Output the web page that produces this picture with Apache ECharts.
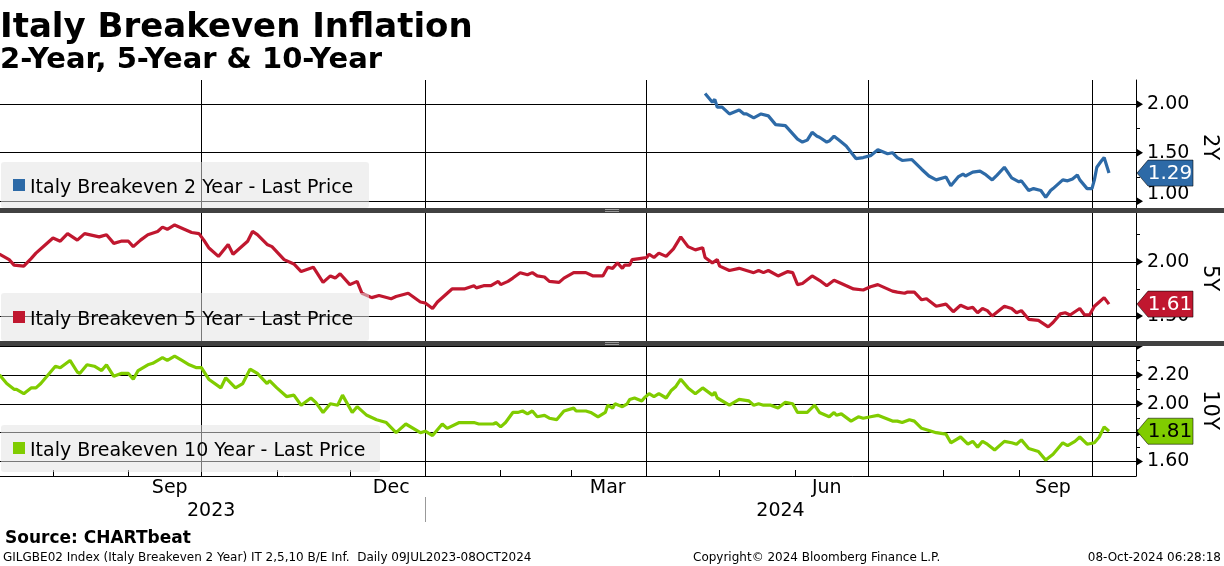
<!DOCTYPE html>
<html><head><meta charset="utf-8">
<script src="https://cdn.jsdelivr.net/npm/echarts@6/dist/echarts.min.js"></script>
<style>html,body{margin:0;padding:0;background:#fff}#c{width:1224px;height:566px}</style>
</head><body><div id="c"></div>
<script>
// ---------- DATA (x = days after 2023-07-09, y = breakeven %) ----------
const BASE_DATE = '2023-07-09';
const data2Y = [[291,2.11],[294,2.02],[295,2.05],[296,1.97],[298,1.97],[301,1.90],[305,1.94],[307,1.90],[308,1.90],[311,1.86],[314,1.90],[317,1.88],[320,1.79],[324,1.78],[329,1.64],[331,1.61],[333,1.63],[335,1.71],[337,1.67],[338,1.66],[341,1.61],[342,1.62],[344,1.67],[346,1.63],[349,1.57],[353,1.44],[356,1.45],[359,1.47],[362,1.53],[366,1.49],[368,1.50],[370,1.45],[372,1.42],[376,1.43],[380,1.33],[383,1.26],[386,1.22],[390,1.25],[392,1.16],[395,1.25],[397,1.28],[398,1.26],[401,1.30],[404,1.31],[406,1.28],[409,1.22],[411,1.27],[414,1.35],[417,1.24],[420,1.20],[421,1.21],[424,1.11],[426,1.13],[429,1.11],[431,1.04],[433,1.11],[434,1.13],[438,1.22],[440,1.21],[442,1.23],[444,1.27],[445,1.22],[448,1.13],[450,1.13],[451,1.22],[452,1.35],[454,1.42],[455,1.45],[457,1.29]];
const data5Y = [[1,2.07],[5,2.02],[7,1.97],[11,1.96],[14,2.03],[16,2.08],[20,2.16],[23,2.22],[26,2.19],[29,2.26],[33,2.20],[36,2.26],[42,2.23],[45,2.25],[48,2.17],[51,2.19],[54,2.19],[56,2.14],[59,2.20],[62,2.25],[66,2.28],[68,2.32],[70,2.30],[73,2.34],[76,2.31],[80,2.27],[83,2.26],[85,2.20],[87,2.13],[91,2.05],[95,2.16],[97,2.07],[100,2.13],[103,2.19],[105,2.28],[107,2.25],[111,2.16],[113,2.14],[118,2.02],[122,1.98],[125,1.91],[130,1.95],[134,1.81],[137,1.87],[139,1.85],[141,1.89],[145,1.79],[148,1.82],[150,1.71],[154,1.67],[157,1.69],[162,1.66],[164,1.68],[169,1.71],[174,1.63],[176,1.62],[179,1.57],[181,1.63],[184,1.69],[187,1.75],[192,1.75],[196,1.78],[197,1.76],[200,1.78],[203,1.78],[206,1.82],[207,1.79],[210,1.82],[212,1.85],[215,1.90],[218,1.88],[220,1.90],[222,1.87],[225,1.86],[227,1.82],[231,1.81],[233,1.85],[237,1.90],[242,1.90],[245,1.87],[249,1.87],[251,1.95],[253,1.94],[255,1.99],[257,1.94],[258,1.97],[260,1.97],[261,2.02],[264,2.03],[267,2.04],[268,2.07],[270,2.04],[272,2.08],[275,2.05],[278,2.12],[281,2.23],[284,2.14],[287,2.11],[290,2.13],[291,2.04],[294,1.99],[296,2.02],[297,1.96],[301,1.92],[305,1.94],[311,1.90],[313,1.92],[315,1.90],[317,1.92],[321,1.87],[325,1.91],[327,1.90],[329,1.79],[331,1.80],[335,1.87],[338,1.83],[341,1.78],[344,1.83],[347,1.80],[352,1.75],[356,1.74],[359,1.77],[362,1.79],[368,1.73],[370,1.72],[373,1.71],[374,1.72],[377,1.72],[380,1.65],[382,1.66],[386,1.59],[390,1.61],[393,1.54],[396,1.60],[399,1.57],[401,1.58],[403,1.53],[405,1.57],[407,1.55],[409,1.50],[414,1.59],[417,1.57],[419,1.53],[421,1.55],[424,1.47],[428,1.46],[432,1.40],[434,1.44],[437,1.52],[439,1.53],[441,1.51],[445,1.57],[447,1.51],[449,1.51],[451,1.59],[453,1.63],[455,1.67],[457,1.61]];
const data10Y = [[1,2.20],[4,2.14],[7,2.10],[8,2.10],[11,2.07],[14,2.11],[16,2.11],[18,2.14],[20,2.18],[24,2.26],[26,2.25],[30,2.30],[33,2.22],[34,2.21],[37,2.27],[40,2.26],[43,2.23],[45,2.27],[48,2.19],[51,2.21],[54,2.21],[56,2.17],[58,2.23],[62,2.27],[64,2.28],[68,2.32],[70,2.30],[73,2.33],[76,2.30],[79,2.27],[82,2.25],[84,2.25],[87,2.17],[92,2.11],[94,2.18],[98,2.11],[101,2.14],[104,2.24],[107,2.21],[111,2.14],[112,2.16],[115,2.11],[119,2.05],[122,2.06],[125,1.99],[129,2.04],[131,2.01],[134,1.94],[137,2.00],[140,1.99],[142,2.06],[146,1.94],[148,1.98],[152,1.92],[156,1.89],[160,1.87],[164,1.80],[168,1.86],[174,1.80],[176,1.81],[179,1.78],[183,1.86],[185,1.83],[190,1.87],[196,1.87],[198,1.86],[202,1.86],[204,1.86],[205,1.87],[207,1.84],[209,1.87],[212,1.94],[214,1.94],[216,1.95],[218,1.93],[220,1.95],[222,1.91],[225,1.92],[227,1.90],[230,1.89],[233,1.95],[237,1.97],[238,1.95],[242,1.95],[244,1.94],[247,1.91],[250,1.94],[251,1.99],[253,1.97],[254,2.00],[257,1.98],[259,2.00],[260,2.03],[262,2.04],[265,2.02],[266,2.04],[268,2.07],[270,2.05],[272,2.07],[275,2.04],[277,2.09],[279,2.12],[281,2.17],[284,2.11],[287,2.07],[290,2.11],[294,2.06],[295,2.08],[296,2.04],[301,1.99],[305,2.03],[309,2.02],[311,1.99],[313,2.00],[315,1.99],[318,1.99],[321,1.97],[324,2.01],[327,2.00],[329,1.94],[333,1.94],[336,1.99],[338,1.94],[342,1.91],[344,1.94],[345,1.92],[347,1.93],[351,1.88],[354,1.91],[356,1.90],[359,1.91],[362,1.92],[368,1.88],[370,1.88],[372,1.87],[375,1.89],[377,1.88],[380,1.83],[382,1.82],[386,1.80],[390,1.79],[392,1.73],[396,1.77],[399,1.72],[401,1.74],[403,1.70],[405,1.74],[407,1.72],[410,1.68],[414,1.74],[417,1.73],[419,1.72],[421,1.75],[424,1.69],[428,1.67],[431,1.61],[434,1.65],[438,1.73],[440,1.71],[443,1.74],[445,1.77],[448,1.72],[451,1.73],[453,1.77],[455,1.84],[457,1.81]];

// ---------- AXES / TICKS ----------
const xRangeDays = [1.23, 468.1];
const monthTickDates = ['2023-08-01','2023-09-01','2023-10-01','2023-11-01','2023-12-01','2024-01-01','2024-02-01','2024-03-01','2024-04-01','2024-05-01','2024-06-01','2024-07-01','2024-08-01','2024-09-01','2024-10-01'];
const quarterLineDates = ['2023-10-01','2024-01-01','2024-04-01','2024-07-01','2024-10-01'];
const monthLabelDates = ['2023-09-18','2023-12-18','2024-03-16','2024-06-14','2024-09-15'];
const monthLabels = ['Sep','Dec','Mar','Jun','Sep'];
const yearLabelDates = ['2023-10-05','2024-05-26'];
const yearLabels = ['2023','2024'];
const yearSepDates = ['2024-01-01'];

const yRange2Y = [0.93, 2.25], yLabels2Y = [1.0, 1.5, 2.0], yTicks2Y = [1.0, 1.25, 1.5, 1.75, 2.0];
const yRange5Y = [1.27, 2.45], yLabels5Y = [1.5, 2.0], yTicks5Y = [1.5, 1.75, 2.0, 2.25];
const yRange10Y = [1.5, 2.4], yLabels10Y = [1.6, 1.8, 2.0, 2.2], yTicks10Y = [1.6, 1.7, 1.8, 1.9, 2.0, 2.1, 2.2, 2.3, 2.4];
const yGrid10Y = [1.6, 1.8, 2.0, 2.2, 2.4];

const seriesNames = ['Italy Breakeven 2 Year - Last Price', 'Italy Breakeven 5 Year - Last Price', 'Italy Breakeven 10 Year - Last Price'];
const axisNames = ['2Y', '5Y', '10Y'];

// ---------- BUILD ----------
const FONT = 'DejaVu Sans';
const DAY = 86400000;
const toTs = s => { const p = s.split('-').map(Number); return Date.UTC(p[0], p[1] - 1, p[2]); };
const BASE = toTs(BASE_DATE);
const toDay = s => Math.round((toTs(s) - BASE) / DAY);   // date string -> day offset on the x scale
const monthTickDays = monthTickDates.map(toDay);
const quarterDays = quarterLineDates.map(toDay);
const monthLabelDays = monthLabelDates.map(toDay);
const yearLabelDays = yearLabelDates.map(toDay);
const yearSepDays = yearSepDates.map(toDay);

const panels = [
  {data: data2Y, color: '#2d6aa7', tagText: '#fff', range: yRange2Y, labels: yLabels2Y, ticks: yTicks2Y, grid: yLabels2Y, top: 80, h: 128, box: [1, 162, 368, 46], base: 193},
  {data: data5Y, color: '#c0172f', tagText: '#fff', range: yRange5Y, labels: yLabels5Y, ticks: yTicks5Y, grid: yLabels5Y, top: 213, h: 128, box: [1, 293, 368, 48], base: 325},
  {data: data10Y, color: '#80cc00', tagText: '#000', range: yRange10Y, labels: yLabels10Y, ticks: yTicks10Y, grid: yGrid10Y, top: 346, h: 130, box: [1, 425, 379, 47], base: 456}
];

const grids = [], xAxes = [], yAxes = [], series = [];
panels.forEach((p, i) => {
  grids.push({left: 0, right: 88, top: p.top, height: p.h});
  xAxes.push({type: 'value', gridIndex: i, min: xRangeDays[0], max: xRangeDays[1], show: i === 2,
    axisLine: {show: true, onZero: false, lineStyle: {color: '#000', width: 1}},
    axisTick: {show: true, inside: true, length: 6, customValues: monthTickDays, lineStyle: {color: '#000'}},
    axisLabel: {show: true, customValues: monthLabelDays, margin: 3, color: '#000', fontFamily: FONT, fontSize: 19,
      formatter: v => { const k = monthLabelDays.indexOf(v); return k >= 0 ? monthLabels[k] : ''; }},
    splitLine: {show: false}});
  yAxes.push({type: 'value', gridIndex: i, position: 'right', min: p.range[0], max: p.range[1],
    axisLine: {show: true, onZero: false, lineStyle: {color: '#000', width: 1}},
    axisTick: {show: true, inside: false, length: 4, customValues: p.ticks, lineStyle: {color: '#000'}},
    axisLabel: {show: true, customValues: p.labels, margin: 11, color: '#000', fontFamily: FONT, fontSize: 19,
      formatter: v => (i === 0 && Math.abs(v - 1) < 1e-9) ? '{lift|1.00}' : v.toFixed(2),
      rich: {lift: {padding: [0, 0, 15, 0], fontFamily: FONT, fontSize: 19, color: '#000'}}},
    splitLine: {show: false}});
  series.push({type: 'line', name: seriesNames[i], xAxisIndex: i, yAxisIndex: i, z: 10,
    data: p.data, showSymbol: false, symbol: 'none',
    lineStyle: {color: p.color, width: 3.2}, itemStyle: {color: p.color},
    markLine: {silent: true, symbol: ['none', 'none'], animation: false, label: {show: false},
      lineStyle: {color: '#000', width: 1, type: 'solid', opacity: 1},
      emphasis: {disabled: true},
      data: quarterDays.map(d => ({xAxis: d})).concat(p.grid.map(v => ({yAxis: v})))}});
});
// year row under the bottom axis
xAxes.push({type: 'value', gridIndex: 2, min: xRangeDays[0], max: xRangeDays[1], position: 'bottom', offset: 21,
  axisLine: {show: false},
  axisTick: {show: true, inside: false, length: 25, customValues: yearSepDays, lineStyle: {color: '#999'}},
  axisLabel: {show: true, customValues: yearLabelDays, margin: 5, color: '#000', fontFamily: FONT, fontSize: 19,
    formatter: v => { const k = yearLabelDays.indexOf(v); return k >= 0 ? yearLabels[k] : ''; }},
  splitLine: {show: false}});

const chart = echarts.init(document.getElementById('c'));
chart.setOption({animation: false, backgroundColor: '#fff', grid: grids, xAxis: xAxes, yAxis: yAxes, series: series});

// ---------- GRAPHICS ----------
// text placed by baseline: top-aligned y = baseline - 0.78 * fontSize
const T = (text, x, baseline, size, bold, extra) => ({type: 'text', z: 60, x: x, y: baseline - 0.78 * size,
  style: Object.assign({text: text, font: `${bold ? 'bold ' : ''}${size}px "${FONT}"`, fill: '#000', align: 'left', verticalAlign: 'top'}, extra || {})});
const g = [];
g.push(T('Italy Breakeven Inflation', 0, 38, 34, true));
g.push(T('2-Year, 5-Year & 10-Year', 0, 69, 29, true));
g.push(T('Source: CHARTbeat', 5, 543, 17, true));
g.push(T('GILGBE02 Index (Italy Breakeven 2 Year) IT 2,5,10 B/E Inf.  Daily 09JUL2023-08OCT2024', 3, 561, 12, false));
g.push(T('Copyright\u00a9 2024 Bloomberg Finance L.P.', 693, 561, 12, false));
g.push(T('08-Oct-2024 06:28:18', 1221, 561, 12, false, {align: 'right'}));

// panel separators
[[208, 5], [341, 5]].forEach(([y, h]) => {
  g.push({type: 'rect', z: 55, shape: {x: 0, y: y, width: 1224, height: h}, style: {fill: '#414141'}});
  g.push({type: 'line', z: 56, shape: {x1: 605, y1: y + 1.5, x2: 619, y2: y + 1.5}, style: {stroke: '#9a9a9a', lineWidth: 1}});
  g.push({type: 'line', z: 56, shape: {x1: 605, y1: y + 3.5, x2: 619, y2: y + 3.5}, style: {stroke: '#9a9a9a', lineWidth: 1}});
});

const axisNameY = [147, 278, 410];
panels.forEach((p, i) => {
  const b = p.box;
  g.push({type: 'rect', z: 50, shape: {x: b[0], y: b[1], width: b[2], height: b[3], r: 3}, style: {fill: 'rgba(226,226,226,0.53)'}});
  g.push({type: 'rect', z: 51, shape: {x: 13, y: p.base - 14, width: 12, height: 12}, style: {fill: p.color}});
  g.push(T(seriesNames[i], 30, p.base, 19, false));
  g.push({type: 'text', z: 60, x: 1209, y: axisNameY[i], rotation: -Math.PI / 2,
    style: {text: axisNames[i], font: `21px "${FONT}"`, fill: '#000', align: 'center', verticalAlign: 'middle'}});
  p.grid.forEach(v => {
    const y = chart.convertToPixel({yAxisIndex: i}, v);
    g.push({type: 'polygon', z: 52, shape: {points: [[1136.5, y - 4], [1143, y], [1136.5, y + 4]]}, style: {fill: '#000'}});
  });
  const last = p.data[p.data.length - 1][1];
  const y = chart.convertToPixel({yAxisIndex: i}, last);
  g.push({type: 'polygon', z: 58, shape: {points: [[1137, y], [1148, y - 13], [1193, y - 13], [1193, y + 13], [1148, y + 13]]},
    style: {fill: p.color, stroke: 'rgba(0,0,0,0.55)', lineWidth: 1}});
  g.push({type: 'text', z: 59, x: 1170, y: y + 1,
    style: {text: last.toFixed(2), font: `20px "${FONT}"`, fill: p.tagText, align: 'center', verticalAlign: 'middle'}});
});
chart.setOption({graphic: {elements: g}});
</script></body></html>
